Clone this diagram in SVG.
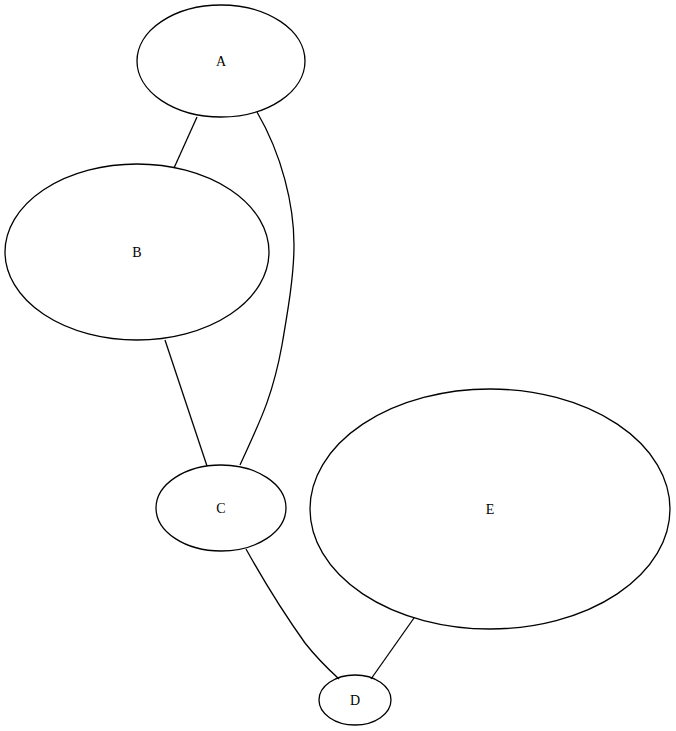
<svg xmlns="http://www.w3.org/2000/svg" width="676" height="731" viewBox="0 0 676 731">
<style>
.n ellipse{fill:none;stroke:#000;stroke-width:1.3}
.n text{font-family:"Liberation Serif",serif;font-size:14px;text-anchor:middle;fill:#000}
.e path{fill:none;stroke:#000;stroke-width:1.3}
</style>
<rect width="676" height="731" fill="#fff"/>
<g class="e" id="edges">
<path d="M197,117 L174,168"/>
<path d="M257,112 C282,155 294,205 294,245 C294,275 288,310 282,345 C272,400 258,425 240,465"/>
<path d="M165,340 L207,466"/>
<path d="M246,549 C266,585 285,615 305,643 C316,657 327,668 339,679"/>
<path d="M414,618 L371,679"/>
</g>
<g class="n" id="A"><ellipse cx="221" cy="61" rx="84" ry="56"/><text x="221" y="66">A</text></g>
<g class="n" id="B"><ellipse cx="137" cy="252" rx="132" ry="88"/><text x="137" y="257">B</text></g>
<g class="n" id="C"><ellipse cx="221" cy="508" rx="65" ry="43"/><text x="221" y="513">C</text></g>
<g class="n" id="D"><ellipse cx="355" cy="700" rx="36" ry="25"/><text x="355" y="705">D</text></g>
<g class="n" id="E"><ellipse cx="490" cy="509" rx="180" ry="120"/><text x="490" y="514">E</text></g>
</svg>
